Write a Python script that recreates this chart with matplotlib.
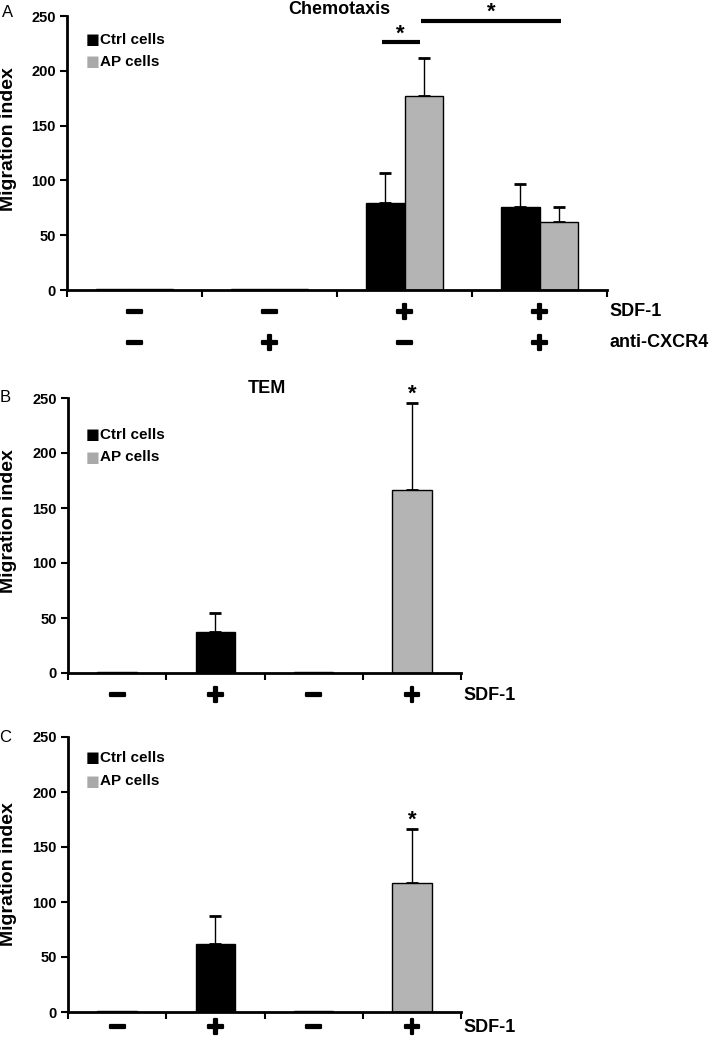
import numpy as np
import matplotlib
matplotlib.use("Agg")
import matplotlib.pyplot as plt
import matplotlib.patheffects as pe

plt.rcParams['font.family'] = ['Liberation Sans', 'DejaVu Sans']

# panel A: chemotaxis
a_groups = 4
a_ctrl = [1, 1, 79, 76]
a_ctrl_err = [0, 0, 28, 21]
a_ap = [1, 1, 177, 62]
a_ap_err = [0, 0, 35, 14]
a_sdf = ['−', '−', '+', '+']
a_cxcr4 = ['−', '+', '−', '+']

# panel B: TEM (single series, colour per bar)
b_vals = [1, 37, 1, 166]
b_err = [0, 18, 0, 79]
b_cells = ['ctrl', 'ctrl', 'ap', 'ap']
b_sdf = ['−', '+', '−', '+']

# panel C
c_vals = [1, 62, 0.5, 117]
c_err = [0, 25, 0, 49]
c_cells = ['ctrl', 'ctrl', 'ap', 'ap']
c_sdf = ['−', '+', '−', '+']

BLACK = '#000000'
GREY = '#b4b4b4'
LEG_GREY = '#a9a9a9'

W, H = 713, 1042
fig = plt.figure(figsize=(W / 100, H / 100), dpi=100)
thick = [pe.withStroke(linewidth=1.6, foreground='black')]


def px_axes(l, r, top, bottom):
    return fig.add_axes([l / W, 1 - bottom / H, (r - l) / W, (bottom - top) / H])


def style_axes(ax):
    ax.set_ylim(0, 250)
    ax.set_xlim(-0.5, 3.5)
    ax.set_yticks([0, 50, 100, 150, 200, 250])
    for s in ['top', 'right']:
        ax.spines[s].set_visible(False)
    for s in ['left', 'bottom']:
        ax.spines[s].set_linewidth(2)
    ax.set_xticks([])
    ax.set_xticks(np.arange(-0.5, 4, 1), minor=True)
    ax.tick_params(axis='x', which='minor', length=5, width=1.5, direction='out')
    ax.tick_params(axis='y', length=5, width=1.5, direction='out', labelsize=10.5, pad=3)
    for t in ax.get_yticklabels():
        t.set_fontweight('bold')


def legend(y1, y2):
    # y1, y2 in figure pixels from the top
    for y, c, lab in [(y1, BLACK, 'Ctrl cells'), (y2, LEG_GREY, 'AP cells')]:
        fig.text(85.5 / W, 1 - y / H, '\u25a0', color=c, fontsize=10.5, va='center',
                 ha='left', family=['DejaVu Sans'])
        fig.text(100 / W, 1 - y / H, lab, fontsize=11, fontweight='bold', va='center',
                 ha='left')


def signs(ax, labels, yax, name=None, name_x=3.52):
    tr = ax.get_xaxis_transform()
    for i, s in enumerate(labels):
        ax.text(i, yax, s, transform=tr, ha='center', va='center', fontsize=17,
                fontweight='bold', family=['DejaVu Sans'], clip_on=False,
                path_effects=thick)
    if name:
        ax.text(name_x, yax, name, transform=tr, ha='left', va='center', fontsize=13,
                fontweight='bold', clip_on=False)


# ---------- A ----------
axA = px_axes(67, 607, 16, 290)
x = np.arange(a_groups)
bw = 0.285
axA.bar(x - bw / 2, a_ctrl, bw, color=BLACK, edgecolor='black', linewidth=1, zorder=2)
axA.bar(x + bw / 2, a_ap, bw, color=GREY, edgecolor='black', linewidth=1, zorder=2)
for xs, v, e in [(x - bw / 2, a_ctrl, a_ctrl_err), (x + bw / 2, a_ap, a_ap_err)]:
    m = np.array(e) > 0
    axA.errorbar(xs[m], np.array(v)[m], yerr=[np.zeros(m.sum()), np.array(e)[m]],
                 fmt='none', ecolor='black', elinewidth=1, capsize=4, capthick=2, zorder=1)
style_axes(axA)
legend(40, 62)
signs(axA, a_sdf, -0.08, 'SDF-1', 3.515)
signs(axA, a_cxcr4, -0.192, 'anti-CXCR4', 3.515)
axA.plot([1.833, 2.115], [226, 226], color='black', lw=3, clip_on=False, solid_capstyle='butt')
axA.plot([2.122, 3.159], [245, 245], color='black', lw=3, clip_on=False, solid_capstyle='butt')
axA.text(1.97, 233, '*', ha='center', va='center', fontsize=16, fontweight='bold', clip_on=False)
axA.text(2.64, 253, '*', ha='center', va='center', fontsize=16, fontweight='bold', clip_on=False)
axA.text(1.52, 255.5, 'Chemotaxis', ha='center', va='center', fontsize=13,
         fontweight='bold', clip_on=False)
fig.text(9 / W, 1 - 139 / H, 'Migration index', rotation=90, ha='center', va='center',
         fontsize=14, fontweight='bold')
fig.text(8 / W, 1 - 12.5 / H, 'A', ha='center', va='center', fontsize=12)


def single_panel(top, bottom, vals, err, cells, sdf, star_y, title=None, label_y=None,
                 letter=None, letter_y=None, leg=(0, 0), row=-0.08):
    ax = px_axes(68, 461, top, bottom)
    xs = np.arange(len(vals))
    cols = [BLACK if c == 'ctrl' else GREY for c in cells]
    ax.bar(xs, vals, 0.4, color=cols, edgecolor='black', linewidth=1, zorder=2)
    e = np.array(err)
    m = e > 0
    ax.errorbar(xs[m], np.array(vals)[m], yerr=[np.zeros(m.sum()), e[m]], fmt='none',
                ecolor='black', elinewidth=1, capsize=4, capthick=2, zorder=1)
    style_axes(ax)
    legend(*leg)
    signs(ax, sdf, row, 'SDF-1', 3.53)
    ax.text(3, star_y, '*', ha='center', va='center', fontsize=16, fontweight='bold',
            clip_on=False)
    if title:
        ax.text(1.525, 259, title, ha='center', va='center', fontsize=13,
                fontweight='bold', clip_on=False)
    fig.text(9 / W, 1 - label_y / H, 'Migration index', rotation=90, ha='center',
             va='center', fontsize=14, fontweight='bold')
    fig.text(5 / W, 1 - letter_y / H, letter, ha='center', va='center', fontsize=12)
    return ax


single_panel(398, 673, b_vals, b_err, b_cells, b_sdf, 253, title='TEM', label_y=521,
             letter='B', letter_y=397, leg=(435, 457))
single_panel(737, 1012, c_vals, c_err, c_cells, c_sdf, 174, label_y=874,
             letter='C', letter_y=737, leg=(758, 781), row=-0.055)

fig.savefig('out.png', dpi=100)
